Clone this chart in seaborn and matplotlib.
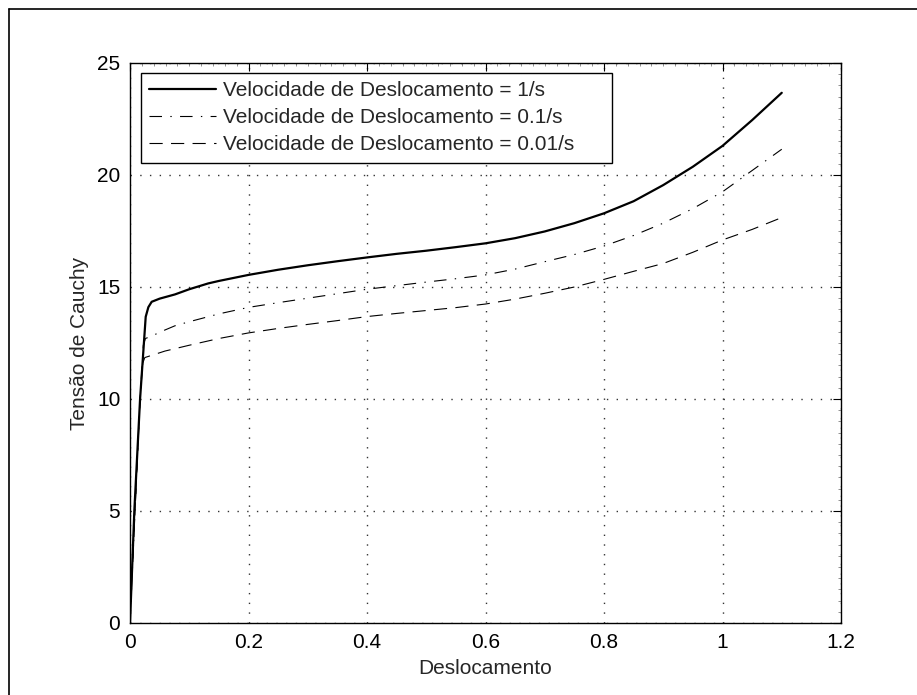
import numpy as np
import pandas as pd
import matplotlib
matplotlib.use("Agg")
import matplotlib.pyplot as plt
from matplotlib.lines import Line2D
from matplotlib.ticker import MultipleLocator
import seaborn as sns

# Displacement / Cauchy stress curves for three displacement rates
x_1 = [0.0, 0.0073, 0.017, 0.0265, 0.031, 0.0366, 0.05, 0.076, 0.1, 0.132, 0.15,
       0.2, 0.25, 0.3, 0.35, 0.4, 0.45, 0.5, 0.55, 0.6, 0.65, 0.7, 0.75, 0.8,
       0.85, 0.9, 0.95, 1.0, 1.05, 1.1]
y_1 = [0.0, 5.0, 10.0, 13.67, 14.1, 14.34, 14.48, 14.67, 14.9, 15.16, 15.27,
       15.54, 15.77, 15.97, 16.15, 16.32, 16.48, 16.62, 16.78, 16.95, 17.18,
       17.48, 17.85, 18.29, 18.83, 19.55, 20.37, 21.3, 22.45, 23.67]

x_01 = [0.0, 0.0085, 0.017, 0.0225, 0.026, 0.04, 0.05, 0.076, 0.1, 0.15, 0.2,
        0.25, 0.3, 0.35, 0.4, 0.45, 0.5, 0.55, 0.6, 0.65, 0.7, 0.75, 0.8,
        0.85, 0.9, 0.95, 1.0, 1.05, 1.1]
y_01 = [0.0, 5.0, 10.0, 12.4, 12.7, 12.85, 12.98, 13.27, 13.45, 13.8, 14.09,
        14.3, 14.5, 14.7, 14.9, 15.06, 15.22, 15.37, 15.54, 15.8, 16.13,
        16.45, 16.83, 17.3, 17.85, 18.5, 19.25, 20.2, 21.15]

x_001 = [0.0, 0.0085, 0.017, 0.0215, 0.025, 0.059, 0.1, 0.15, 0.2, 0.25, 0.3,
         0.35, 0.4, 0.45, 0.5, 0.55, 0.6, 0.65, 0.7, 0.75, 0.8, 0.85, 0.9,
         0.95, 1.0, 1.05, 1.1]
y_001 = [0.0, 5.0, 10.0, 11.6, 11.85, 12.14, 12.4, 12.7, 12.95, 13.15, 13.33,
         13.5, 13.68, 13.82, 13.95, 14.08, 14.24, 14.46, 14.72, 15.0, 15.34,
         15.7, 16.05, 16.55, 17.1, 17.57, 18.1]

labels = ["Velocidade de Deslocamento = 1/s",
          "Velocidade de Deslocamento = 0.1/s",
          "Velocidade de Deslocamento = 0.01/s"]

x_ticks = [0, 0.2, 0.4, 0.6, 0.8, 1.0, 1.2]
x_ticklabels = ["0", "0.2", "0.4", "0.6", "0.8", "1", "1.2"]
y_ticks = [0, 5, 10, 15, 20, 25]
y_ticklabels = ["0", "5", "10", "15", "20", "25"]

sns.set_style("white")
plt.rcParams["font.family"] = ["Liberation Sans", "DejaVu Sans"]
plt.rcParams["lines.scale_dashes"] = False

fig = plt.figure(figsize=(9.17, 6.95), dpi=100)
ax = fig.add_axes([130 / 917, 1 - 623 / 695, 711 / 917, 560 / 695])

styles = [
    dict(linewidth=1.6, linestyle="-"),
    dict(linewidth=0.8, linestyle=(0, (9, 6, 1, 6))),
    dict(linewidth=0.8, linestyle=(0, (9.5, 6))),
]
series = [(x_1, y_1), (x_01, y_01), (x_001, y_001)]

for (xs, ys), st in zip(series, styles):
    df = pd.DataFrame({"Deslocamento": xs, "Tensao": ys})
    sns.lineplot(data=df, x="Deslocamento", y="Tensao", ax=ax, color="black",
                 sort=False, estimator=None, legend=False, **st)

ax.set_xlim(0, 1.2)
ax.set_ylim(0, 25)
ax.set_xticks(x_ticks)
ax.set_xticklabels(x_ticklabels)
ax.set_yticks(y_ticks)
ax.set_yticklabels(y_ticklabels)
ax.xaxis.set_minor_locator(MultipleLocator(0.02))
ax.yaxis.set_minor_locator(MultipleLocator(0.5))

ax.grid(True, which="major", color="#333333", linestyle=(0, (1, 6)), linewidth=1.0)
ax.tick_params(which="major", direction="in", length=6, width=0.8,
               top=True, right=True, labelsize=15, pad=7, colors="black")
ax.tick_params(which="minor", direction="in", length=2.5, width=0.5,
               top=True, right=True, color="#666666")
for sp in ax.spines.values():
    sp.set_color("black")
    sp.set_linewidth(1.0)

ax.set_xlabel("Deslocamento", fontsize=15, labelpad=5)
ax.set_ylabel("Tensão de Cauchy", fontsize=15, labelpad=6)

handles = [Line2D([], [], color="black", **st) for st in styles]
leg = ax.legend(handles, labels, loc="upper left", mode="expand",
                bbox_to_anchor=(141 / 917, 1 - 161 / 695, 471 / 917, 88 / 695),
                bbox_transform=fig.transFigure, borderaxespad=0,
                fontsize=15, frameon=True, fancybox=False, framealpha=1,
                edgecolor="black", handlelength=3.2, handletextpad=0.35,
                labelspacing=0.38, borderpad=0.4)
leg.get_frame().set_linewidth(1.0)

# outer frame of the figure
fig.add_artist(Line2D([9 / 917, 1.0], [1 - 9 / 695, 1 - 9 / 695],
                      transform=fig.transFigure, color="black", linewidth=1.2))
fig.add_artist(Line2D([9 / 917, 9 / 917], [0.0, 1 - 9 / 695],
                      transform=fig.transFigure, color="black", linewidth=1.2))

fig.savefig("out.png", dpi=100)
